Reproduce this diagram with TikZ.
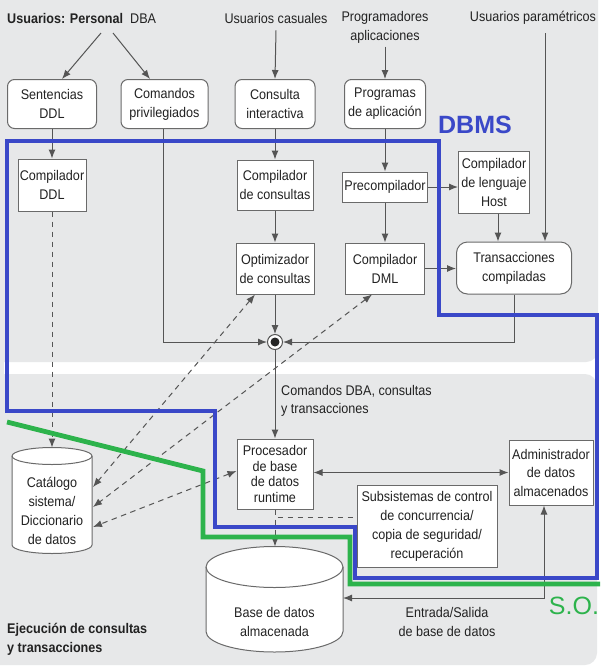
\documentclass[tikz,border=0pt]{standalone}
\usepackage{fontspec}
\setmainfont{Liberation Sans}[FakeStretch=0.9]
\newfontfamily\bigfont{Liberation Sans}
\usetikzlibrary{arrows.meta}
\definecolor{panel}{HTML}{E7E8E9}
\definecolor{linec}{HTML}{555555}
\definecolor{boxc}{HTML}{6A6A6A}
\definecolor{txtc}{HTML}{222222}
\definecolor{dbmsblue}{HTML}{3A48C8}
\definecolor{sogreen}{HTML}{2DB34C}
\begin{document}
\begin{tikzpicture}[x=1pt,y=-1pt,
  every node/.style={font=\fontsize{14}{19}\selectfont, text=txtc, align=center, inner sep=0pt},
  boxs/.style={draw=boxc, fill=white, line width=1pt},
  rbox/.style={boxs, rounded corners=7pt},
  conn/.style={draw=linec, line width=1pt},
  arr/.style={conn, -{Latex[length=9pt,width=7pt]}},
  darr/.style={conn, {Latex[length=9pt,width=7pt]}-{Latex[length=9pt,width=7pt]}},
  dsh/.style={conn, dash pattern=on 5.5pt off 4.5pt},
  darrd/.style={darr, dash pattern=on 5.5pt off 4.5pt},
  arrd/.style={arr, dash pattern=on 5.5pt off 4.5pt},
  fence/.style={line width=4.8pt, line join=miter}
]
\useasboundingbox (0,0) rectangle (604,670);
% background panels
\fill[white] (0,0) rectangle (604,670);
\fill[panel, rounded corners=12pt] (-15,-15) rectangle (598,362);
\fill[panel, rounded corners=12pt] (-15,374) rectangle (597,665);
\fill[panel] (0,356) rectangle (4,380);

% top labels
\node[anchor=west] (usrdba) at (7,18) {{\bfseries Usuarios: Personal}\ \ DBA};
\coordinate (dbaA) at (101,33);
\coordinate (dbaB) at (113,33);
\node (usrcas) at (276,18) {Usuarios casuales};
\node (prog) at (385,27.5) {Programadores\\aplicaciones};
\node (usrpar) at (533,18) {Usuarios paramétricos};
\coordinate (parTop) at (545,33);

% row 1
\node[rbox, minimum width=89pt, minimum height=49pt] (sdl) at (52,104) {Sentencias\\DDL};
\node[rbox, minimum width=87pt, minimum height=49pt] (cpriv) at (164.5,104) {Comandos\\privilegiados};
\node[rbox, minimum width=80pt, minimum height=49pt] (cint) at (275,104) {Consulta\\interactiva};
\node[rbox, minimum width=81pt, minimum height=49pt] (papl) at (385,104) {Programas\\de aplicación};

% row 2
\node[boxs, minimum width=68pt, minimum height=52pt] (cddl) at (52,185) {Compilador\\DDL};
\node[boxs, minimum width=76pt, minimum height=50pt] (ccons) at (275,185) {Compilador\\de consultas};
\node[boxs, minimum width=85pt, minimum height=30pt] (precomp) at (385,187) {Precompilador};
\node[boxs, minimum width=71pt, minimum height=62pt] (chost) at (494,182) {Compilador\\de lenguaje\\Host};

% row 3
\node[boxs, minimum width=78pt, minimum height=51pt] (opt) at (275,268.5) {Optimizador\\de consultas};
\node[boxs, minimum width=79pt, minimum height=51pt] (cdml) at (385,268.5) {Compilador\\DML};
\node[rbox, rounded corners=11pt, minimum width=115pt, minimum height=52pt] (trans) at (514,268) {Transacciones\\compiladas};

% junction
\node[circle, draw=linec, fill=white, line width=1pt, minimum size=15pt] (junc) at (275,342) {};
\node[circle, fill=black!85, minimum size=9pt] (jdot) at (275,342) {};

% lower part
\node[anchor=west, align=left, font=\fontsize{14}{18}\selectfont] (cmdlbl) at (281,401) {Comandos DBA, consultas\\y transacciones};
\node[boxs, minimum width=76pt, minimum height=70pt, font=\fontsize{14}{15.5}\selectfont] (proc) at (275,474) {Procesador\\de base\\de datos\\runtime};
\node[boxs, minimum width=84pt, minimum height=65pt, font=\fontsize{14}{18.5}\selectfont] (admin) at (551,472.5) {Administrador\\de datos\\almacenados};
\node[boxs, minimum width=140pt, minimum height=82pt] (subs) at (427,526) {Subsistemas de control\\de concurrencia/\\copia de seguridad/\\recuperación};
\coordinate (subsIn) at (357,517);

% catalog cylinder
\draw[boxs] (12,456) -- (12,545) arc[start angle=180,end angle=360,x radius=40pt,y radius=8.5pt] -- (92,456) arc[start angle=0,end angle=180,x radius=40pt,y radius=8.5pt] -- cycle;
\draw[draw=boxc, line width=1pt] (12,456) arc[start angle=180,end angle=360,x radius=40pt,y radius=8.5pt];
\node (cattxt) at (52,511) {Catálogo\\sistema/\\Diccionario\\de datos};
\coordinate (catTop) at (52,447.5);
\coordinate (catR1) at (93,487);
\coordinate (catR2) at (93,507);
\coordinate (catR3) at (93,527);

% stored database cylinder
\draw[boxs] (206,567) -- (206,631.5) arc[start angle=180,end angle=360,x radius=68.5pt,y radius=20.5pt] -- (343,567) arc[start angle=0,end angle=180,x radius=68.5pt,y radius=20.5pt] -- cycle;
\draw[draw=boxc, line width=1pt] (206,567) arc[start angle=180,end angle=360,x radius=68.5pt,y radius=20.5pt];
\node (bdtxt) at (274.5,622) {Base de datos\\almacenada};
\coordinate (bdTop) at (275,546.5);
\coordinate (bdR) at (343,598);

\node (iolbl) at (447,622) {Entrada/Salida\\de base de datos};
\node[anchor=west, align=left, font=\fontsize{14}{19}\selectfont\bfseries] (ejec) at (7,639) {Ejecución de consultas\\y transacciones};

% connectors
\draw[arr] (dbaA) -- ([xshift=10pt]sdl.north);
\draw[arr] (dbaB) -- ([xshift=-14.5pt]cpriv.north);
\draw[arr] (usrcas.south) ++(0,7) -- (cint.north);
\draw[arr] (prog.south) ++(0,3) -- (papl.north);
\draw[arr] (sdl.south) -- (cddl.north);
\draw[arr] (cint.south) -- (ccons.north);
\draw[arr] (papl.south) -- (precomp.north);
\draw[arr] (precomp.east) -- (precomp.east -| chost.west);
\draw[arr] (ccons.south) -- (opt.north);
\draw[arr] (precomp.south) -- (cdml.north);
\draw[arr] ([xshift=4pt]chost.south) -- ([xshift=4pt]chost.south |- trans.north);
\draw[arr] (parTop) -- (parTop |- trans.north);
\draw[arr] (cdml.east) -- (cdml.east -| trans.west);
\draw[arr] ([xshift=-1.5pt]cpriv.south) |- (junc.west);
\draw[arr] (trans.south) |- (junc.east);
\draw[arr] (opt.south) -- (junc.north);
\draw[arr] (junc.south) -- (proc.north);
\draw[darr] (proc.east |- admin.west) -- (admin.west);
\draw[arrd] (cddl.south) -- (catTop);
\draw[darrd] ([xshift=-20pt]opt.south) -- (catR1);
\draw[darrd] ([xshift=-13pt]cdml.south) -- (catR2);
\draw[darrd] ([yshift=3pt]proc.west) -- (catR3);
\draw[dsh] (proc.south) |- (subsIn);
\draw[arrd] (proc.south) -- (bdTop);
\draw[darr] (bdR) -| ([xshift=-7pt]admin.south);

% DBMS and S.O. fences
\draw[fence, draw=dbmsblue] (7,141) -- (439,141) -- (439,315) -- (597,315) -- (597,578) -- (355,578) -- (355,527) -- (215,527) -- (215,411) -- (7,411) -- cycle;
\draw[fence, draw=sogreen] (7,422) -- (203,471) -- (203,537) -- (350,537) -- (350,584) -- (600,584);
\node[font=\bigfont\fontsize{25}{25}\selectfont\bfseries, text=dbmsblue] (dbms) at (475,125) {DBMS};
\node[font=\bigfont\fontsize{25}{25}\selectfont, text=sogreen] (so) at (574,606) {S.O.};
\end{tikzpicture}
\end{document}
